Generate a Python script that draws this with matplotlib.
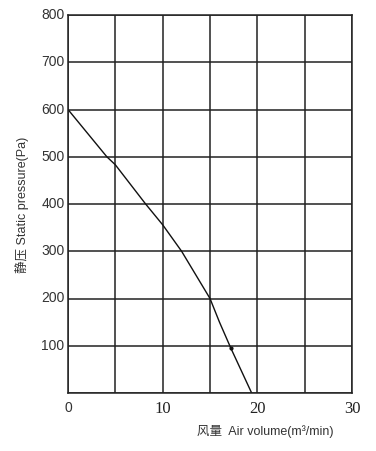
import matplotlib
matplotlib.use("Agg")
from matplotlib import pyplot as plt

# performance curve
air_volume = [0, 4.1, 5, 8.2, 10, 12, 15, 16, 17.2, 19.4]
static_pressure = [600, 500, 483, 400, 356, 300, 200, 150, 95, 0]

x_ticks = [0, 10, 20, 30]
y_ticks = [100, 200, 300, 400, 500, 600, 700, 800]

plt.rcParams['font.family'] = ['Liberation Sans', 'Noto Sans CJK SC', 'DejaVu Sans']

fig = plt.figure(figsize=(3.76, 4.51), dpi=100)
ax = fig.add_axes([68/376, 1-393/451, 284/376, 378/451])

ax.plot(air_volume, static_pressure, color='#111111', lw=1.0)
ax.plot([17.2], [95], marker='o', ms=2, color='#111111')

ax.set_xlim(0, 30)
ax.set_ylim(0, 800)
ax.set_xticks(range(0, 31, 5))
ax.set_yticks(range(0, 801, 100))
ax.grid(True, color='#222222', lw=1.1)
ax.tick_params(length=0, labelbottom=False, labelleft=False)
for s in ax.spines.values():
    s.set_color('#222222')
    s.set_linewidth(1.1)

for v in y_ticks:
    ax.text(-0.012, v, str(v), transform=ax.get_yaxis_transform(), ha='right', va='center',
            fontsize=10, color='#333333')
for v in x_ticks:
    if v == 0:
        ax.text(v, -0.02, '0', transform=ax.get_xaxis_transform(), ha='center', va='top',
                fontsize=10, color='#333333')
    else:
        ax.text(v, -0.02, str(v), transform=ax.get_xaxis_transform(), ha='center', va='top',
                fontsize=12, color='#222222', family=['Liberation Serif', 'DejaVu Serif'])

fig.text(22/376, 1-205/451, '静压 Static pressure(Pa)', rotation=90, ha='center', va='center',
         fontsize=9, color='#333333')
fig.text(265/376, 1-432/451, '风量  Air volume(m³/min)', ha='center', va='center',
         fontsize=9, color='#333333')

fig.savefig('out.png', dpi=100)
